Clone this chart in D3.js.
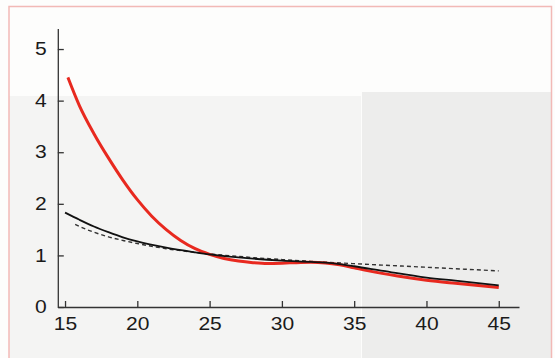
<!DOCTYPE html>
<html>
<head>
<meta charset="utf-8">
<script src="https://cdn.jsdelivr.net/npm/d3@7"></script>
<style>
  html, body { margin: 0; padding: 0; background: #fdfdfc; }
  svg { display: block; }
  .tick text { font-family: "Liberation Sans", Arial, sans-serif; font-size: 18px; fill: #1a1a1a; }
</style>
</head>
<body>
<div id="chart"></div>
<script>
// tick values
const xTicks = [15, 20, 25, 30, 35, 40, 45];
const yTicks = [0, 1, 2, 3, 4, 5];

// red curve
const redX = [15.2, 16, 17, 18, 19, 20, 21, 22, 23, 24, 25, 26, 27, 28, 29, 30, 31, 32, 33, 34, 35, 36, 38, 40, 42, 45];
const redY = [4.45, 3.90, 3.36, 2.89, 2.46, 2.08, 1.76, 1.50, 1.29, 1.13, 1.02, 0.94, 0.89, 0.86, 0.845, 0.85, 0.86, 0.865, 0.855, 0.82, 0.76, 0.70, 0.60, 0.52, 0.46, 0.38];

// black solid curve
const blackX = [15, 16, 17, 18, 19, 20, 22, 24, 25, 27, 30, 32, 33, 34, 35, 37, 40, 42, 45];
const blackY = [1.83, 1.69, 1.56, 1.45, 1.35, 1.27, 1.15, 1.06, 1.02, 0.96, 0.90, 0.875, 0.86, 0.83, 0.79, 0.70, 0.57, 0.51, 0.42];

// dashed curve
const dashX = [15.7, 16, 17, 18, 19, 20, 22, 24, 25, 27, 30, 33, 35, 40, 45];
const dashY = [1.60, 1.56, 1.45, 1.36, 1.29, 1.23, 1.13, 1.06, 1.03, 0.98, 0.92, 0.87, 0.84, 0.77, 0.70];

const width = 555, height = 358;

const svg = d3.select('#chart').append('svg')
  .attr('width', width)
  .attr('height', height);

// faint scanned-page background patches
svg.append('rect').attr('x', 9).attr('y', 96).attr('width', 352).attr('height', 270)
  .attr('fill', '#f4f4f3');
svg.append('rect').attr('x', 362).attr('y', 92).attr('width', 190).attr('height', 270)
  .attr('fill', '#ededec');

// pink frame
svg.append('rect').attr('x', 9).attr('y', 6.5).attr('width', 542.5).attr('height', 380)
  .attr('fill', 'none').attr('stroke', '#f2b9b6').attr('stroke-width', 1.5);

const x = d3.scaleLinear().domain([14.5, 46.4]).range([57.8, 519]);
const y = d3.scaleLinear().domain([0, 5.4]).range([307, 28.4]);

const xAxis = svg.append('g')
  .attr('transform', `translate(0,${y(0)})`)
  .call(d3.axisBottom(x).tickValues(xTicks).tickFormat(d3.format('d'))
    .tickSizeInner(-6).tickSizeOuter(0).tickPadding(10));

const yAxis = svg.append('g')
  .attr('transform', `translate(${x(14.5)},0)`)
  .call(d3.axisLeft(y).tickValues(yTicks).tickFormat(d3.format('d'))
    .tickSizeInner(-6).tickSizeOuter(0).tickPadding(11));

[xAxis, yAxis].forEach(ax => {
  ax.select('.domain').attr('stroke', '#333').attr('stroke-width', 1.3);
  ax.selectAll('.tick line').attr('stroke', '#333').attr('stroke-width', 1.3);
});
// the printed digits are a little wider than Liberation Sans
xAxis.selectAll('.tick text').attr('transform', 'scale(1.17,1)');
yAxis.selectAll('.tick text').attr('x', -11 / 1.17).attr('transform', 'scale(1.17,1)');

const line = d3.line()
  .x(d => x(d[0]))
  .y(d => y(d[1]))
  .curve(d3.curveMonotoneX);

const zip = (xs, ys) => xs.map((v, i) => [v, ys[i]]);

svg.append('path')
  .datum(zip(dashX, dashY))
  .attr('d', line)
  .attr('fill', 'none')
  .attr('stroke', '#333')
  .attr('stroke-width', 1.4)
  .attr('stroke-dasharray', '4,3');

svg.append('path')
  .datum(zip(redX, redY))
  .attr('d', line)
  .attr('fill', 'none')
  .attr('stroke', '#e8291f')
  .attr('stroke-width', 3);

svg.append('path')
  .datum(zip(blackX, blackY))
  .attr('d', line)
  .attr('fill', 'none')
  .attr('stroke', '#111')
  .attr('stroke-width', 1.8);
</script>
</body>
</html>
